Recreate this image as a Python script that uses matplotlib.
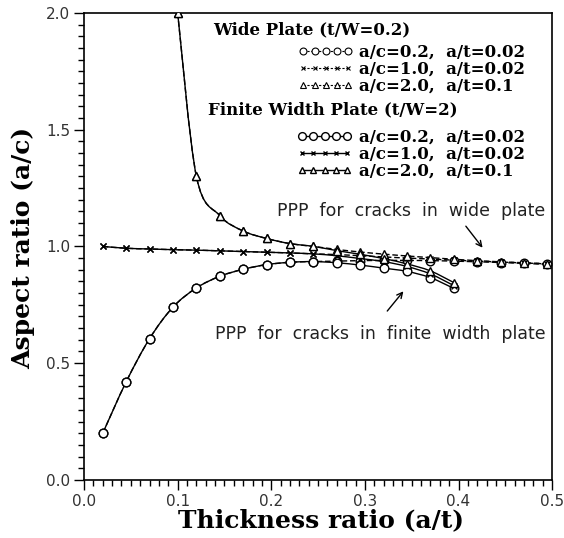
import matplotlib
matplotlib.use('Agg')
import matplotlib.pyplot as plt
import numpy as np
from matplotlib.lines import Line2D
from matplotlib.patches import PathPatch
from matplotlib.path import Path
from matplotlib.ticker import MultipleLocator


# thickness ratio a/t at which the crack shape was recorded
a_t = [0.02, 0.045, 0.07, 0.095, 0.12, 0.145, 0.17, 0.195, 0.22, 0.245,
       0.27, 0.295, 0.32, 0.345, 0.37, 0.395]
a_t_wide = a_t + [0.42, 0.445, 0.47, 0.495]
a_t_tri = [0.1, 0.12, 0.145, 0.17, 0.195, 0.22, 0.245,
           0.27, 0.295, 0.32, 0.345, 0.37, 0.395]
a_t_tri_wide = a_t_tri + [0.42, 0.445, 0.47, 0.495]

# aspect ratio a/c, finite width plate (t/W=2)
fin_c02 = [0.20, 0.42, 0.605, 0.74, 0.822, 0.872, 0.902, 0.922, 0.932, 0.935,
           0.93, 0.92, 0.907, 0.893, 0.866, 0.82]
fin_c10 = [1.0, 0.992, 0.989, 0.986, 0.984, 0.981, 0.978, 0.975, 0.972, 0.968,
           0.96, 0.948, 0.935, 0.914, 0.882, 0.832]
fin_c20 = [2.0, 1.30, 1.132, 1.066, 1.034, 1.012, 1.0,
           0.982, 0.966, 0.948, 0.925, 0.895, 0.845]

# aspect ratio a/c, wide plate (t/W=0.2)
wide_c02 = [0.20, 0.42, 0.605, 0.74, 0.822, 0.872, 0.902, 0.922, 0.932, 0.935,
            0.937, 0.939, 0.94, 0.94, 0.939, 0.937, 0.934, 0.931, 0.927, 0.923]
wide_c10 = [1.0, 0.992, 0.989, 0.986, 0.984, 0.981, 0.978, 0.975, 0.972, 0.968,
            0.965, 0.96, 0.955, 0.95, 0.946, 0.941, 0.937, 0.933, 0.929, 0.925]
wide_c20 = [2.0, 1.30, 1.132, 1.066, 1.034, 1.012, 1.0,
            0.987, 0.976, 0.967, 0.959, 0.952, 0.945, 0.939, 0.934, 0.93, 0.926]

labels = ['a/c=0.2,  a/t=0.02', 'a/c=1.0,  a/t=0.02', 'a/c=2.0,  a/t=0.1']

SERIF = 'DejaVu Serif'
SANS = 'DejaVu Sans'
# rough pixels per data unit, so the smoothing works in screen proportions
SCALE = np.array([938.0, 233.5])


def smooth_path(x, y):
    """Catmull-Rom curve through the points, as a bezier path"""
    pts = np.column_stack([x, y]) * SCALE
    n = len(pts)
    verts = [pts[0]]
    codes = [Path.MOVETO]
    for i in range(n - 1):
        p0 = pts[i - 1] if i > 0 else pts[i]
        p1, p2 = pts[i], pts[i + 1]
        p3 = pts[i + 2] if i + 2 < n else pts[i + 1]
        verts += [p1 + (p2 - p0) / 6, p2 - (p3 - p1) / 6, p2]
        codes += [Path.CURVE4] * 3
    return Path(np.array(verts) / SCALE, codes)


def curve(ax, x, y, marker, ms, ls):
    ax.add_patch(PathPatch(smooth_path(x, y), fill=False, lw=1.0,
                           ls=ls, ec='black', zorder=2))
    ax.plot(x, y, ls='none', marker=marker, ms=ms, mfc='white',
            mec='black', mew=1.0, zorder=3)


def plot():
    fig = plt.figure(figsize=(5.64, 5.38), dpi=100)
    ax = fig.add_axes([0.149, 0.108, 0.83, 0.868])

    styles = [('o', 6.2), ('x', 3.8), ('^', 5.2)]
    wide = [(a_t_wide, wide_c02), (a_t_wide, wide_c10), (a_t_tri_wide, wide_c20)]
    fin = [(a_t, fin_c02), (a_t, fin_c10), (a_t_tri, fin_c20)]

    for (x, y), (m, ms) in zip(wide, styles):
        curve(ax, x, y, m, ms, (0, (4, 2)))
    for (x, y), (m, ms) in zip(fin, styles):
        curve(ax, x, y, m, ms, '-')

    ax.set_xlim(0, 0.5)
    ax.set_ylim(0, 2.0)
    ax.xaxis.set_major_locator(MultipleLocator(0.1))
    ax.xaxis.set_minor_locator(MultipleLocator(0.01))
    ax.yaxis.set_major_locator(MultipleLocator(0.5))
    ax.yaxis.set_minor_locator(MultipleLocator(0.05))
    ax.xaxis.set_major_formatter('{x:.1f}')
    ax.yaxis.set_major_formatter('{x:.1f}')
    ax.tick_params(which='major', direction='out', length=7, width=1.0,
                   labelsize=11, pad=3)
    ax.tick_params(which='minor', direction='out', length=4, width=1.0)
    for lab in ax.get_xticklabels() + ax.get_yticklabels():
        lab.set_family(SANS)
        lab.set_color('#333333')
    for sp in ax.spines.values():
        sp.set_linewidth(1.2)

    ax.set_xlabel('Thickness ratio (a/t)', family=SERIF, weight='bold',
                  fontsize=18)
    ax.set_ylabel('Aspect ratio (a/c)', family=SERIF, weight='bold',
                  fontsize=18)
    ax.xaxis.set_label_coords(0.507, -0.06)
    ax.yaxis.set_label_coords(-0.105, 0.496)

    # legend blocks
    ax.text(0.275, 0.964, 'Wide Plate (t/W=0.2)', transform=ax.transAxes,
            family=SERIF, weight='bold', fontsize=12, va='center')
    ax.text(0.264, 0.792, 'Finite Width Plate (t/W=2)', transform=ax.transAxes,
            family=SERIF, weight='bold', fontsize=12, va='center')

    h_wide = [Line2D([], [], color='black', lw=0.8, ls=(0, (2, 1.5)),
                     marker=m, ms=ms * 0.8, mfc='white', mec='black', mew=0.8)
              for m, ms in styles]
    h_fin = [Line2D([], [], color='black', lw=1.0, ls='-',
                    marker=m, ms=ms * 0.9, mfc='white', mec='black', mew=1.0)
             for m, ms in styles]
    prop = {'family': SERIF, 'weight': 'bold', 'size': 12}
    leg1 = ax.legend(h_wide, labels, loc='upper left',
                     bbox_to_anchor=(0.458, 0.934), frameon=False, prop=prop,
                     numpoints=5, handlelength=3.3, handletextpad=0.35,
                     labelspacing=0.0, borderpad=0, borderaxespad=0)
    ax.add_artist(leg1)
    ax.legend(h_fin, labels, loc='upper left',
              bbox_to_anchor=(0.455, 0.752), frameon=False, prop=prop,
              numpoints=5, handlelength=3.3, handletextpad=0.4,
              labelspacing=0.0, borderpad=0, borderaxespad=0)

    # annotations
    ax.annotate('', xy=(0.4275, 0.985), xytext=(0.406, 1.096),
                arrowprops=dict(arrowstyle='->', lw=1.0, color='black'))
    ax.text(0.4925, 1.152, 'PPP  for  cracks  in  wide  plate', family=SANS,
            fontsize=12.5, ha='right', va='center', color='#222222')
    ax.annotate('', xy=(0.343, 0.817), xytext=(0.322, 0.714),
                arrowprops=dict(arrowstyle='->', lw=1.0, color='black'))
    ax.text(0.4925, 0.625, 'PPP  for  cracks  in  finite  width  plate',
            family=SANS, fontsize=12.5, ha='right', va='center',
            color='#222222')

    fig.savefig('out.png', dpi=100)


if __name__ == '__main__':
    plot()
